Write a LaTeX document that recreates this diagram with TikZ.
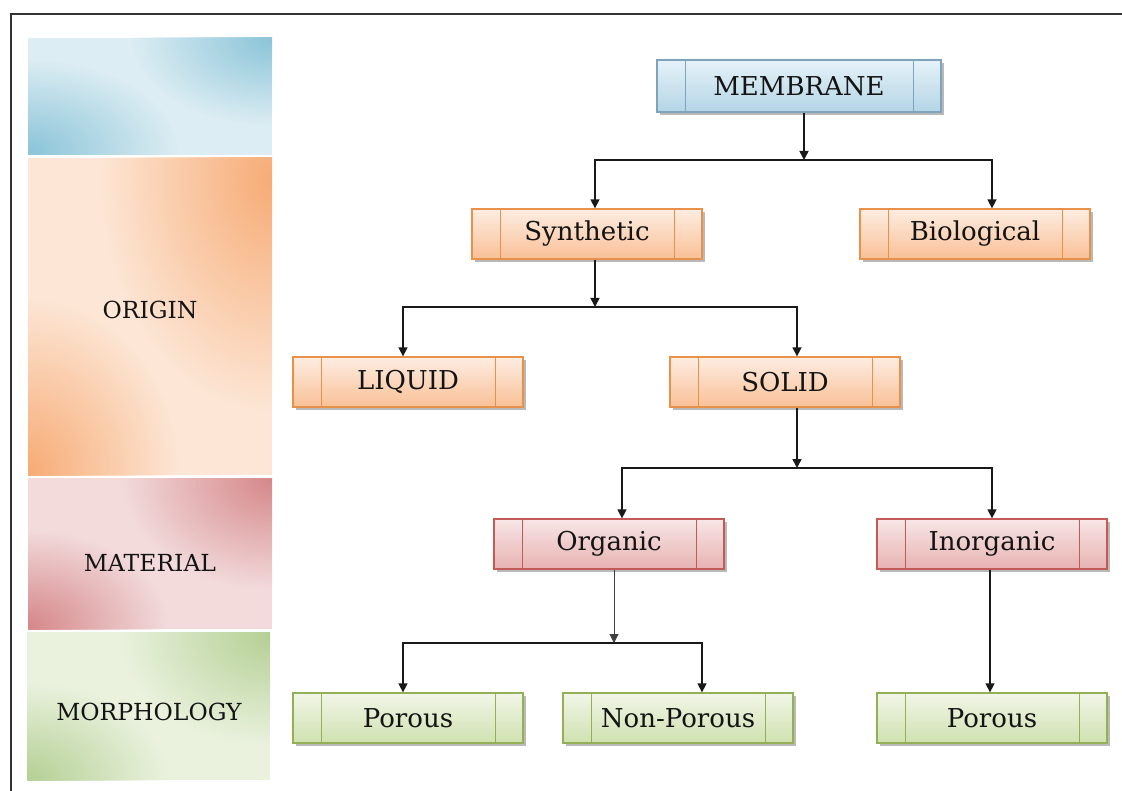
\documentclass[tikz,border=0pt]{standalone}
\usepackage{fontspec}
\setmainfont{DejaVu Serif}
\usetikzlibrary{arrows.meta,shadows,calc,fadings}

% colours of the four levels
\definecolor{bbord}{HTML}{7FA3BB}\definecolor{btop}{HTML}{E6F2F8}\definecolor{bbot}{HTML}{B3D5E6}
\definecolor{obord}{HTML}{E8914A}\definecolor{otop}{HTML}{FDEDE2}\definecolor{obot}{HTML}{F9C096}
\definecolor{rbord}{HTML}{C25A58}\definecolor{rtop}{HTML}{F8E6E6}\definecolor{rbot}{HTML}{E7B2B2}
\definecolor{gbord}{HTML}{93B057}\definecolor{gtop}{HTML}{F1F6E7}\definecolor{gbot}{HTML}{D0E1B0}
% band colours
\definecolor{bandBd}{HTML}{8CC5D9}\definecolor{bandBl}{HTML}{DCEDF3}
\definecolor{bandOd}{HTML}{F7AC76}\definecolor{bandOl}{HTML}{FDE6D5}
\definecolor{bandRd}{HTML}{D6888A}\definecolor{bandRl}{HTML}{F3DBDC}
\definecolor{bandGd}{HTML}{B5D095}\definecolor{bandGl}{HTML}{EAF2DE}

\tikzfading[name=softspot, inner color=transparent!0, outer color=transparent!100]

\newcommand{\boxfont}{\fontsize{26}{31}\selectfont}
\newcommand{\bandfont}{\fontsize{23.5}{28}\selectfont}

\tikzset{
  box/.style={rectangle, minimum width=230pt, minimum height=50pt, inner sep=0pt,
    line width=1.3pt, draw=#1, font=\boxfont, text=black!92,
    drop shadow={shadow xshift=2.5pt, shadow yshift=-3pt, fill=black!50, opacity=0.55},
    path picture={\draw[#1, line width=1pt]
      ([xshift=28pt]path picture bounding box.north west) -- ([xshift=28pt]path picture bounding box.south west)
      ([xshift=-28pt]path picture bounding box.north east) -- ([xshift=-28pt]path picture bounding box.south east);}},
  bluebox/.style={box=bbord, top color=btop, bottom color=bbot},
  orangebox/.style={box=obord, top color=otop, bottom color=obot},
  redbox/.style={box=rbord, top color=rtop, bottom color=rbot},
  greenbox/.style={box=gbord, top color=gtop, bottom color=gbot},
  band/.style={font=\bandfont, text=black!92},
  spot/.style={fill=#1, path fading=softspot},
  link/.style={line width=1.5pt, black!90},
  arr/.style={link, -{Triangle[length=9pt, width=9pt]}},
  thinarr/.style={line width=1pt, black!75, -{Triangle[length=9pt, width=9pt]}},
}

\begin{document}
\begin{tikzpicture}[x=1pt, y=-1pt]
\useasboundingbox (0,0) rectangle (1122,791);
\fill[white] (0,0) rectangle (1122,791);

% outer frame (top and left edges)
\draw[line width=2pt, black!80] (11,791) -- (11,14) -- (1122,14);

% level bands: pale ground with two soft darker corners
\begin{scope}
  \clip (28,38) rectangle (272,155);
  \fill[bandBl] (28,38) rectangle (272,155);
  \fill[spot=bandBd] (28,150) ellipse [x radius=150pt, y radius=90pt];
  \fill[spot=bandBd] (272,40) ellipse [x radius=140pt, y radius=85pt];
\end{scope}
\begin{scope}
  \clip (28,158) rectangle (272,475);
  \fill[bandOl] (28,158) rectangle (272,475);
  \fill[spot=bandOd] (272,180) ellipse [x radius=170pt, y radius=230pt];
  \fill[spot=bandOd] (28,470) ellipse [x radius=150pt, y radius=170pt];
\end{scope}
\begin{scope}
  \clip (28,478) rectangle (272,629);
  \fill[bandRl] (28,478) rectangle (272,629);
  \fill[spot=bandRd] (272,480) ellipse [x radius=150pt, y radius=110pt];
  \fill[spot=bandRd] (28,625) ellipse [x radius=140pt, y radius=95pt];
\end{scope}
\begin{scope}
  \clip (27,632) rectangle (270,780);
  \fill[bandGl] (27,632) rectangle (270,780);
  \fill[spot=bandGd] (270,635) ellipse [x radius=150pt, y radius=110pt];
  \fill[spot=bandGd] (27,778) ellipse [x radius=140pt, y radius=95pt];
\end{scope}
\node[band] (origin) at (150,310) {ORIGIN};
\node[band] (material) at (150,563) {MATERIAL};
\node[band] (morph) at (149,712) {MORPHOLOGY};

% tree nodes
\node[bluebox, minimum width=284pt, minimum height=52pt] (mem) at (799,86) {MEMBRANE};
\node[orangebox] (syn) at (587,234) {Synthetic};
\node[orangebox] (bio) at (975,234) {Biological};
\node[orangebox] (liq) at (408,382) {LIQUID};
\node[orangebox] (sol) at (785,382) {SOLID};
\node[redbox] (org) at (609,544) {Organic};
\node[redbox] (inorg) at (992,544) {Inorganic};
\node[greenbox] (por1) at (408,718) {Porous};
\node[greenbox] (nonp) at (678,718) {Non-Porous};
\node[greenbox] (por2) at (992,718) {Porous};

% junction points
\coordinate (j1) at (804,160);
\coordinate (j2) at (595,307);
\coordinate (j3) at (797,468);
\coordinate (j4) at (614,643);

% connectors
\draw[arr] (mem.south -| j1) -- (j1);
\draw[arr] (j1) -| ([xshift=8pt]syn.north);
\draw[arr] (j1) -| ([xshift=17pt]bio.north);

\draw[arr] (syn.south -| j2) -- (j2);
\draw[arr] (j2) -| ([xshift=-5pt]liq.north);
\draw[arr] (j2) -| ([xshift=12pt]sol.north);

\draw[arr] (sol.south -| j3) -- (j3);
\draw[arr] (j3) -| ([xshift=13pt]org.north);
\draw[arr] (j3) -| (inorg.north);

\draw[thinarr] (org.south -| j4) -- (j4);
\draw[arr] (j4) -| ([xshift=-5pt]por1.north);
\draw[arr] (j4) -| ([xshift=24pt]nonp.north);

\draw[arr] ([xshift=-2pt]inorg.south) -- ([xshift=-2pt]por2.north);
\end{tikzpicture}
\end{document}
